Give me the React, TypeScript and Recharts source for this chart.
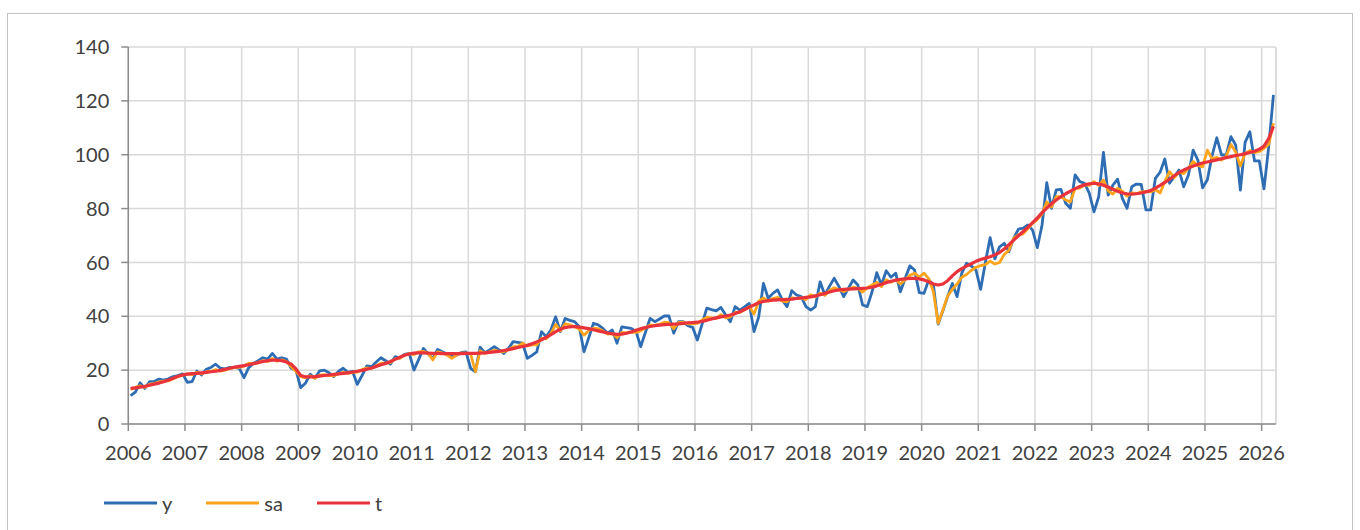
import React from 'react';
import { LineChart, Line, XAxis, YAxis, CartesianGrid, Legend, ReferenceLine } from 'recharts';

// Monthly series, Jan 2006 – Mar 2026
const tickYears = ['2006','2007','2008','2009','2010','2011','2012','2013','2014','2015','2016','2017','2018','2019','2020','2021','2022','2023','2024','2025','2026'];
const yTicks = [0, 20, 40, 60, 80, 100, 120, 140];
const seriesOrder = ['y', 'sa', 't'];

const yValues = [
  10.5, 11.8, 15.3, 13.2, 15.7, 15.8, 16.7, 16.3, 16.8, 17.6, 18.0, 18.6,
  15.5, 15.7, 19.7, 18.2, 20.3, 21.0, 22.2, 20.7, 20.5, 21.0, 21.0, 20.7,
  17.2, 20.9, 22.5, 23.5, 24.6, 24.1, 26.2, 24.1, 24.6, 24.1, 20.7, 20.0,
  13.5, 15.1, 18.5, 17.0, 19.7, 20.0, 19.0, 17.6, 19.5, 20.7, 19.2, 19.5,
  14.7, 18.0, 21.6, 21.3, 23.0, 24.6, 23.5, 22.2, 25.0, 24.5, 25.9, 26.2,
  20.0, 24.0, 28.1, 26.0, 24.4, 27.7, 26.8, 26.0, 25.0, 25.5, 26.6, 26.8,
  20.7, 19.4, 28.5, 26.5, 27.5, 28.7, 27.5, 26.2, 28.0, 30.6, 30.3, 30.0,
  24.4, 25.5, 26.8, 34.3, 32.4, 35.0, 39.8, 34.3, 39.2, 38.5, 38.0, 36.1,
  26.8, 32.0, 37.4, 36.8, 35.5, 33.7, 34.9, 30.0, 36.1, 35.8, 35.5, 34.5,
  28.7, 34.0, 39.2, 38.0, 39.0, 40.1, 40.1, 33.7, 38.0, 38.0, 36.5, 35.9,
  31.2, 37.0, 43.0, 42.5, 42.0, 43.3, 40.5, 38.0, 43.6, 42.3, 43.5, 44.8,
  34.3, 39.8, 52.2, 46.7, 48.5, 49.8, 46.0, 43.6, 49.5, 47.9, 47.3, 43.6,
  42.3, 43.6, 52.8, 47.9, 51.2, 54.1, 51.0, 47.3, 50.4, 53.5, 51.6, 44.2,
  43.6, 49.1, 56.2, 51.6, 56.9, 54.5, 56.0, 49.1, 54.0, 58.7, 57.2, 48.8,
  48.5, 53.5, 51.6, 37.1, 42.0, 47.3, 52.2, 47.3, 56.0, 59.7, 58.7, 57.2,
  50.0, 60.0, 69.2, 61.3, 65.8, 67.1, 64.0, 69.0, 72.4, 72.7, 73.9, 72.0,
  65.5, 73.9, 89.6, 80.1, 86.9, 87.1, 82.0, 80.1, 92.5, 90.0, 89.4, 85.7,
  78.8, 84.4, 100.9, 85.0, 88.7, 90.9, 83.8, 80.1, 88.1, 89.1, 89.0, 79.5,
  79.5, 91.2, 93.5, 98.4, 89.4, 91.8, 94.3, 88.1, 92.5, 101.7, 98.0, 87.7,
  90.6, 99.6, 106.3, 99.9, 99.9, 106.7, 103.6, 86.9, 104.6, 108.5, 97.7, 97.7,
  87.3, 103.0, 122.2,
];

const saValues = [
  12.8, 13.6, 14.2, 13.6, 14.8, 15.0, 15.6, 15.9, 16.0, 16.8, 17.6, 18.1,
  18.6, 18.3, 19.2, 18.6, 19.4, 19.5, 20.2, 19.6, 20.0, 20.6, 21.0, 21.0,
  21.5, 22.6, 22.3, 22.9, 23.5, 23.2, 24.3, 23.3, 23.8, 23.2, 21.3, 19.6,
  17.6, 17.2, 17.9, 17.0, 18.1, 18.3, 18.0, 17.9, 18.6, 19.2, 18.8, 19.2,
  19.3, 20.2, 20.8, 20.6, 21.6, 22.6, 22.6, 22.8, 24.2, 24.4, 25.6, 26.1,
  25.8, 26.8, 27.0, 26.2, 23.8, 26.8, 26.4, 25.6, 24.4, 25.6, 26.4, 26.3,
  26.0, 19.4, 27.2, 26.2, 26.8, 27.4, 27.0, 26.8, 27.6, 28.6, 28.8, 30.0,
  29.0, 29.4, 29.4, 31.8, 31.6, 33.6, 37.0, 34.6, 37.2, 36.8, 36.2, 35.2,
  33.0, 34.6, 35.6, 35.4, 34.6, 33.4, 33.6, 32.0, 34.0, 33.8, 34.0, 34.0,
  34.6, 35.6, 36.8, 36.6, 37.0, 37.8, 37.6, 35.4, 37.6, 37.8, 37.2, 37.2,
  37.4, 38.6, 39.6, 39.4, 39.2, 40.6, 39.4, 39.8, 41.4, 41.4, 42.4, 43.6,
  40.8, 45.6, 46.8, 45.6, 46.6, 47.0, 45.6, 45.4, 46.8, 46.6, 46.8, 46.2,
  48.0, 47.2, 48.6, 47.8, 49.6, 50.6, 49.8, 49.2, 50.0, 50.8, 50.4, 49.0,
  50.6, 51.6, 52.6, 51.0, 53.6, 52.6, 53.6, 52.0, 53.6, 55.2, 56.0, 54.6,
  56.0, 54.0, 49.0, 37.4, 42.3, 47.5, 50.0, 52.0, 54.5, 55.5, 57.0, 58.2,
  58.8, 59.2, 60.5, 59.4, 60.0, 63.0, 64.5, 69.0, 70.2, 70.6, 72.6, 74.5,
  76.0, 78.0, 82.5, 80.6, 84.4, 84.4, 83.2, 82.5, 87.5, 87.6, 88.8, 88.6,
  90.0, 88.6, 90.6, 86.6, 85.4, 87.6, 86.4, 84.6, 85.8, 85.6, 86.2, 86.4,
  86.2, 87.0, 85.8, 90.0, 93.7, 91.5, 93.5, 93.0, 95.0, 97.5, 96.0, 95.5,
  101.7, 98.5, 99.0, 98.0, 99.5, 103.8, 101.0, 95.8, 100.5, 101.5, 100.8, 101.2,
  102.4, 103.8, 111.7,
];

const tValues = [
  13.2, 13.4, 13.7, 14.0, 14.4, 14.8, 15.2, 15.7, 16.3, 17.0, 17.7, 18.2,
  18.5, 18.7, 18.8, 19.0, 19.2, 19.4, 19.6, 19.9, 20.3, 20.7, 21.1, 21.4,
  21.7, 22.0, 22.4, 22.8, 23.2, 23.5, 23.7, 23.7, 23.5, 23.0, 22.2, 20.5,
  18.0, 17.5, 17.5, 17.6, 17.8, 18.0, 18.2, 18.4, 18.6, 18.8, 19.0, 19.3,
  19.6, 19.9, 20.3, 20.8, 21.4, 22.0, 22.5, 23.2, 24.0, 24.8, 25.5, 26.0,
  26.3, 26.4, 26.4, 26.3, 26.2, 26.2, 26.1, 26.1, 26.1, 26.1, 26.1, 26.2,
  26.2, 26.2, 26.3, 26.4, 26.6, 26.8, 27.0, 27.3, 27.6, 28.0, 28.4, 28.8,
  29.2, 29.8, 30.5, 31.3, 32.2, 33.2, 34.3, 35.2, 35.8, 36.1, 36.2, 36.0,
  35.7, 35.4, 35.0, 34.6, 34.2, 33.8, 33.5, 33.3, 33.4, 33.7, 34.2, 34.8,
  35.4, 35.8, 36.2, 36.5, 36.7, 36.9, 37.0, 37.1, 37.2, 37.4, 37.6, 37.7,
  37.8, 38.1, 38.5, 39.0, 39.4, 39.8, 40.1, 40.5, 41.0, 41.7, 42.5, 43.4,
  44.2, 45.0, 45.5, 45.8, 46.0, 46.1, 46.2, 46.3, 46.4, 46.6, 46.8, 47.0,
  47.2, 47.6, 48.0, 48.5, 49.0, 49.5, 49.8, 50.0, 50.1, 50.2, 50.3, 50.4,
  50.5, 50.8, 51.3, 51.9, 52.5, 53.0, 53.4, 53.7, 53.9, 54.1, 54.1, 53.9,
  53.5, 52.8, 52.0, 51.6, 52.0, 53.2, 55.0, 56.6, 57.7, 58.6, 59.5, 60.4,
  61.1, 61.6, 62.1, 62.8, 63.7, 65.0, 66.6, 68.3, 69.9, 71.5, 73.1, 74.8,
  76.5, 78.5, 80.2, 81.8, 83.2, 84.4, 85.5, 86.5, 87.4, 88.2, 88.8, 89.2,
  89.4, 89.2, 88.7, 88.0, 87.2, 86.4, 85.8, 85.5, 85.4, 85.5, 85.8, 86.2,
  86.7, 87.6, 88.6, 89.7, 90.9, 92.2, 93.4, 94.3, 95.1, 95.8, 96.4, 96.9,
  97.3, 97.7, 98.1, 98.5, 98.9, 99.3, 99.7, 100.0, 100.4, 100.8, 101.3, 102.0,
  103.2, 106.0, 110.5,
];

const data = yValues.map((v, i) => ({ m: i + 0.5, y: v, sa: saValues[i], t: tValues[i] }));
const monthTicks = tickYears.map((_, k) => k * 12);
const monthCount = yValues.length;

const textColor = '#404040';
const font = 'Lato, "Open Sans", sans-serif';

const renderLegend = (props: any) => {
  const payload = [...(props.payload || [])].sort(
    (a: any, b: any) => seriesOrder.indexOf(a.value) - seriesOrder.indexOf(b.value)
  );
  return (
    <div style={{ display: 'flex', alignItems: 'center', fontFamily: font, fontSize: 20, color: textColor, lineHeight: '24px' }}>
      {payload.map((p: any) => (
        <div key={p.value} style={{ display: 'flex', alignItems: 'center', marginRight: 34 }}>
          <svg width={53} height={4} style={{ display: 'block' }}>
            <line x1={0} y1={2} x2={53} y2={2} stroke={p.color} strokeWidth={3} />
          </svg>
          <span style={{ marginLeft: 5 }}>{p.value}</span>
        </div>
      ))}
    </div>
  );
};

export default function App() {
  return (
    <>
      <style>{`html,body{overflow:hidden;}`}</style>
      <div
        style={{
          position: 'absolute',
          left: 7,
          top: 13,
          width: 1346,
          height: 540,
          border: '1px solid #c4c4c4',
          boxSizing: 'border-box',
          background: '#fff',
          fontFamily: font,
        }}
      >
        <LineChart
          width={1340}
          height={530}
          data={data}
          margin={{ top: 33, right: 72.2, bottom: 80, left: 0 }}
        >
          <CartesianGrid stroke="#d9d9d9" strokeWidth={1.5} />
          <ReferenceLine x={monthCount} stroke="#d9d9d9" strokeWidth={1.5} />
          <XAxis
            type="number"
            dataKey="m"
            domain={[0, monthCount]}
            ticks={monthTicks}
            interval={0}
            tickFormatter={(v: number) => tickYears[Math.round(v / 12)]}
            height={40}
            tickSize={7}
            tickMargin={15}
            axisLine={{ stroke: '#8c8c8c', strokeWidth: 1.5 }}
            tickLine={{ stroke: '#8c8c8c', strokeWidth: 1.5 }}
            tick={{ fill: textColor, fontSize: 20, fontFamily: font }}
          />
          <YAxis
            domain={[0, 140]}
            ticks={yTicks}
            interval={0}
            width={120.3}
            tickSize={7}
            tickMargin={12}
            axisLine={{ stroke: '#8c8c8c', strokeWidth: 1.5 }}
            tickLine={{ stroke: '#8c8c8c', strokeWidth: 1.5 }}
            tick={{ fill: textColor, fontSize: 20, fontFamily: font }}
          />
          <Legend
            layout="horizontal"
            verticalAlign="middle"
            align="center"
            content={renderLegend}
            wrapperStyle={{ top: 477, left: 96, width: 'auto' }}
          />
          <Line type="linear" dataKey="y" name="y" stroke="#2E6DB4" strokeWidth={2.8} dot={false} isAnimationActive={false} strokeLinejoin="round" />
          <Line type="linear" dataKey="sa" name="sa" stroke="#FFA41B" strokeWidth={2.8} dot={false} isAnimationActive={false} strokeLinejoin="round" />
          <Line type="linear" dataKey="t" name="t" stroke="#E8323C" strokeWidth={3.2} dot={false} isAnimationActive={false} strokeLinejoin="round" />
        </LineChart>
      </div>
    </>
  );
}
